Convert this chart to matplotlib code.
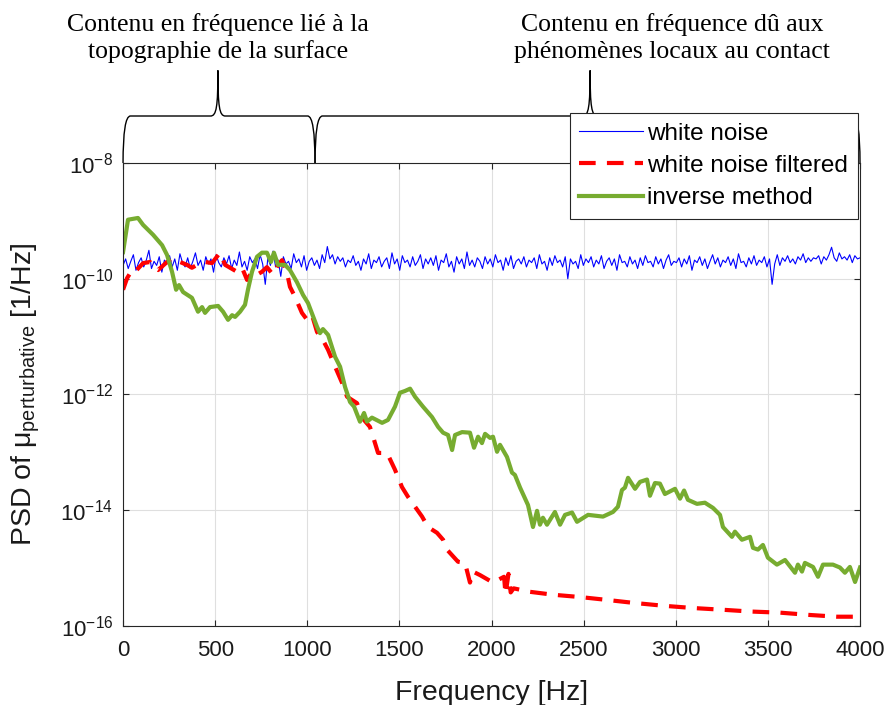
import numpy as np
import matplotlib
matplotlib.use('Agg')
import matplotlib.pyplot as plt
from matplotlib.path import Path
from matplotlib.patches import PathPatch
import matplotlib.transforms as mtransforms

plt.rcParams['font.family'] = ['Liberation Sans', 'DejaVu Sans']
plt.rcParams['mathtext.default'] = 'regular'

# white noise PSD, in units of 1e-10 1/Hz, evenly spread over 0-4000 Hz
white_noise = [
    1.7, 2.2, 1.5, 2.0, 2.6, 1.4, 1.9, 2.3, 1.6, 2.1, 3.1, 1.5, 2.0, 1.7, 2.4, 1.3, 2.1, 1.8, 2.5, 1.6,
    2.2, 1.4, 2.7, 1.9, 1.6, 2.3, 1.5, 2.0, 2.8, 1.7, 2.1, 1.4, 2.4, 1.8, 2.2, 1.3, 2.6, 1.9, 1.6, 2.3,
    1.8, 2.5, 1.5, 2.1, 1.7, 2.9, 1.6, 2.0, 1.4, 2.4, 1.9, 2.2, 1.5, 2.6, 1.8, 0.8, 2.3, 1.7, 3.0, 1.6,
    2.1, 1.1, 2.4, 1.8, 2.0, 1.5, 2.7, 1.9, 2.2, 1.6, 2.5, 1.4, 2.0, 2.3, 1.7, 2.1, 1.5, 2.6, 1.9, 3.6,
    2.2, 2.6, 1.8, 2.4, 2.0, 2.3, 1.6, 2.1, 1.9, 2.5, 1.7, 2.0, 1.4, 2.2, 1.8, 2.7, 1.5, 2.1, 1.9, 2.4,
    1.6, 2.0, 2.3, 1.5, 2.8, 1.8, 2.2, 1.4, 2.5, 1.9, 2.1, 1.6, 2.4, 1.7, 2.0, 2.6, 1.5, 2.2, 1.8, 2.3,
    1.7, 2.5, 1.4, 2.1, 1.9, 2.7, 1.6, 2.0, 1.3, 2.4, 1.8, 2.2, 1.5, 2.9, 1.7, 2.1, 1.6, 2.3, 2.0, 1.5,
    2.4, 1.8, 2.2, 1.6, 2.6, 1.9, 2.1, 1.4, 2.3, 1.7, 2.5, 1.5, 2.0, 2.2, 1.8, 2.4, 1.6, 2.1, 1.9, 2.3,
    1.5, 2.6, 1.8, 2.0, 1.4, 2.3, 1.7, 2.5, 1.9, 2.1, 1.6, 2.4, 1.0, 2.2, 1.8, 2.0, 1.5, 2.6, 1.7, 2.2,
    1.9, 2.4, 1.6, 2.1, 1.8, 2.5, 1.5, 2.0, 2.3, 1.7, 2.2, 1.4, 2.6, 1.9, 2.0, 1.6, 2.4, 1.8, 2.1, 1.5,
    2.3, 1.7, 2.5, 1.9, 2.0, 1.6, 2.4, 1.8, 2.2, 1.5, 2.1, 2.6, 1.7, 2.0, 1.9, 2.3, 1.6, 2.2, 1.8, 2.5,
    1.4, 2.1, 1.9, 2.4, 1.7, 2.2, 1.5, 2.0, 2.6, 1.8, 2.3, 1.6, 2.1, 1.9, 2.4, 1.7, 2.2, 1.5, 2.7, 1.9,
    2.0, 1.6, 2.3, 1.8, 2.5, 1.7, 2.1, 1.9, 2.4, 1.6, 2.2, 0.8, 1.8, 2.6, 1.7, 2.3, 2.0, 2.5, 1.9, 2.2,
    1.8, 2.4, 2.1, 2.7, 1.9, 2.3, 2.0, 2.3, 2.2, 2.5, 1.8, 2.4, 2.1, 2.6, 3.5, 2.3, 2.0, 2.8, 2.2, 2.4,
    2.1, 2.6, 1.9, 2.5, 2.2, 2.3,
]

# white noise filtered: frequency [Hz] and log10 of PSD
filtered_f = [0, 22, 49, 65, 109, 147, 163, 190, 239, 271, 309, 347, 374, 402, 445, 483, 526, 554, 581, 619,
              646, 673, 700, 727, 754, 781, 814, 841, 863, 890, 906, 933, 971, 999, 1026, 1053, 1085, 1113,
              1151, 1189, 1216, 1270, 1297, 1340, 1357, 1384, 1433, 1476, 1514, 1547, 1585, 1623, 1655,
              1704, 1737, 1758, 1818, 1856, 1883, 1899, 1937, 2008, 2068, 2076, 2092, 2104, 2120, 2209,
              2334, 2480, 2627, 2768, 2931, 3094, 3256, 3403, 3566, 3728, 3875, 4000]
filtered_exp = [-10.19, -9.99, -9.85, -9.88, -9.73, -9.71, -9.80, -9.85, -9.71, -9.64, -9.71, -9.76, -9.81,
                -9.76, -9.71, -9.73, -9.55, -9.76, -9.81, -9.88, -9.81, -10.02, -9.88, -9.93, -9.88, -9.80,
                -9.93, -9.76, -9.68, -9.90, -10.14, -10.31, -10.59, -10.71, -10.63, -10.92, -11.06, -11.23,
                -11.52, -11.80, -12.04, -12.15, -12.40, -12.56, -12.73, -13.01, -13.01, -13.30, -13.60,
                -13.77, -13.94, -14.11, -14.29, -14.39, -14.51, -14.68, -14.89, -14.91, -15.25, -15.06,
                -15.12, -15.25, -15.15, -15.45, -15.10, -15.42, -15.35, -15.41, -15.46, -15.50, -15.55,
                -15.60, -15.65, -15.69, -15.72, -15.75, -15.77, -15.81, -15.84, -15.84]

# inverse method: frequency [Hz] and log10 of PSD
inverse_f = [0, 27, 81, 109, 163, 212, 239, 266, 288, 304, 326, 374, 407, 429, 445, 472, 516, 543, 570, 592,
             608, 635, 662, 678, 700, 727, 754, 781, 803, 819, 841, 879, 906, 944, 977, 1004, 1053, 1069,
             1085, 1113, 1151, 1178, 1205, 1232, 1254, 1286, 1308, 1324, 1351, 1406, 1438, 1476, 1503,
             1530, 1558, 1585, 1628, 1677, 1710, 1737, 1764, 1786, 1802, 1840, 1883, 1905, 1927, 1948,
             1965, 1992, 2008, 2030, 2046, 2084, 2111, 2127, 2155, 2198, 2225, 2247, 2263, 2279, 2301,
             2344, 2372, 2399, 2437, 2464, 2524, 2605, 2659, 2686, 2708, 2724, 2741, 2779, 2806, 2844,
             2860, 2887, 2914, 2941, 2996, 3023, 3045, 3066, 3115, 3158, 3202, 3240, 3256, 3305, 3321,
             3359, 3403, 3419, 3446, 3473, 3500, 3549, 3593, 3647, 3663, 3685, 3701, 3745, 3772, 3799,
             3853, 3891, 3918, 3945, 3973, 4000]
inverse_exp = [-9.54, -8.98, -8.95, -9.07, -9.24, -9.42, -9.59, -9.88, -10.19, -10.11, -10.23, -10.33, -10.57,
               -10.49, -10.59, -10.49, -10.47, -10.57, -10.71, -10.63, -10.66, -10.57, -10.45, -10.19, -9.88,
               -9.62, -9.55, -9.55, -9.71, -9.55, -9.76, -9.76, -9.85, -10.06, -10.28, -10.42, -10.83,
               -10.94, -10.87, -10.97, -11.35, -11.52, -11.87, -12.13, -12.21, -12.47, -12.32, -12.47,
               -12.40, -12.49, -12.44, -12.21, -11.97, -11.94, -11.90, -12.04, -12.21, -12.39, -12.56,
               -12.66, -12.70, -12.96, -12.70, -12.65, -12.66, -12.92, -12.73, -12.84, -12.68, -12.75,
               -12.73, -12.99, -12.87, -13.08, -13.35, -13.39, -13.61, -13.91, -14.29, -14.01, -14.25,
               -14.13, -14.25, -14.03, -14.25, -14.08, -14.04, -14.20, -14.08, -14.11, -14.03, -13.94,
               -13.65, -13.61, -13.44, -13.63, -13.51, -13.47, -13.75, -13.53, -13.54, -13.72, -13.63,
               -13.80, -13.66, -13.82, -13.89, -13.87, -13.96, -14.08, -14.29, -14.46, -14.37, -14.51,
               -14.46, -14.65, -14.68, -14.60, -14.82, -14.94, -14.86, -15.08, -14.94, -15.06, -14.91,
               -14.98, -15.15, -14.94, -14.94, -14.99, -15.08, -14.98, -15.24, -14.99]

labels = ['white noise', 'white noise filtered', 'inverse method']

# braces above the plot: (start, tip, end) in Hz, and their captions
brace_ranges = [(0, 515, 1042), (1042, 2535, 4000)]
brace_texts = ['Contenu en fréquence lié à la\ntopographie de la surface',
               'Contenu en fréquence dû aux\nphénomènes locaux au contact']
brace_text_x = [515, 2980]

fig = plt.figure(figsize=(8.89, 7.05), dpi=100)
ax = fig.add_axes([0.1384, 0.1121, 0.8290, 0.6567])

noise_f = np.linspace(0, 4000, len(white_noise))
ax.semilogy(noise_f, np.array(white_noise) * 1e-10, color=(0, 0, 1), lw=0.8, label=labels[0])
ax.semilogy(filtered_f, 10.0 ** np.array(filtered_exp), color=(1, 0, 0), lw=3,
            linestyle=(0, (4, 2.7)), label=labels[1])
ax.semilogy(inverse_f, 10.0 ** np.array(inverse_exp), color=(0.466, 0.674, 0.188), lw=3,
            label=labels[2])

ax.set_xlim(0, 4000)
ax.set_ylim(1e-16, 1e-8)
ax.set_xticks(np.arange(0, 4001, 500))
ax.set_yticks([1e-16, 1e-14, 1e-12, 1e-10, 1e-8])
ax.minorticks_off()
ax.grid(True, color='#dfdfdf', lw=0.8)
ax.set_axisbelow(True)
ax.tick_params(direction='in', length=4, top=True, right=True, labelsize=16, colors='#262626',
               labelcolor='#1a1a1a')
ax.tick_params(axis='x', pad=10)
ax.tick_params(axis='y', pad=7)
for s in ax.spines.values():
    s.set_color('#262626')
    s.set_linewidth(0.8)

ax.set_xlabel('Frequency [Hz]', fontsize=20.5, color='#1a1a1a', labelpad=14)
ax.set_ylabel('PSD of μ$_{perturbative}$ [1/Hz]', fontsize=20.5, color='#1a1a1a', labelpad=13)

leg = ax.legend(loc='upper right', bbox_to_anchor=(0.9973, 1.108), borderaxespad=0, fontsize=17.5,
                fancybox=False, framealpha=1, edgecolor='#262626', handlelength=2.6,
                handletextpad=0.2, labelspacing=0.42, borderpad=0.4)
leg.get_frame().set_linewidth(0.8)
leg.set_zorder(5)

# curly braces, x in data units and y in axes fraction
trans = mtransforms.blended_transform_factory(ax.transData, ax.transAxes)
yb, yl, yt = 1.0, 1.1015, 1.20
dx = 40
for (x0, xm, x1), txt, tx in zip(brace_ranges, brace_texts, brace_text_x):
    verts = [(x0, yb), (x0, yl), (x0 + dx, yl),
             (xm - dx, yl),
             (xm - dx * 0.2, yl), (xm, yl + 0.02), (xm, yt),
             (xm, yl + 0.02), (xm + dx * 0.2, yl), (xm + dx, yl),
             (x1 - dx, yl),
             (x1, yl), (x1, yb)]
    codes = [Path.MOVETO, Path.CURVE3, Path.CURVE3,
             Path.LINETO,
             Path.CURVE4, Path.CURVE4, Path.CURVE4,
             Path.CURVE4, Path.CURVE4, Path.CURVE4,
             Path.LINETO,
             Path.CURVE3, Path.CURVE3]
    ax.add_patch(PathPatch(Path(verts, codes), transform=trans, fill=False, lw=1.0,
                           edgecolor='black', clip_on=False))
    ax.text(tx, 1.27, txt, transform=trans, ha='center', va='center', fontsize=18.5,
            family='Liberation Serif', linespacing=1.25)

fig.savefig('out.png', dpi=100)
